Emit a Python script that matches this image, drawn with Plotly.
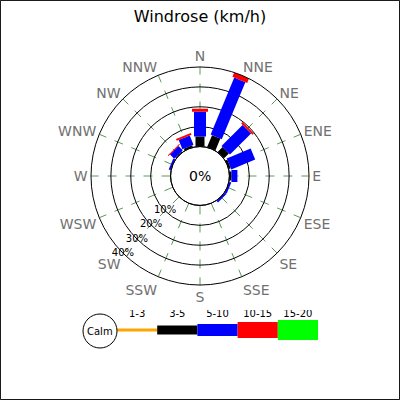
import plotly.graph_objects as go

# direções e faixas de velocidade
directions = ["N", "NNE", "NE", "ENE", "E", "ESE", "SE", "SSE",
              "S", "SSW", "SW", "WSW", "W", "WNW", "NW", "NNW"]
bands = ["1-3", "3-5", "5-10", "10-15", "15-20"]
band_colors = ["#FFA500", "#000000", "#0000FF", "#FF0000", "#00FF00"]
band_widths = [3, 9, 12, 16, 20]

# percentual por direção (uma lista por faixa)
pct_1_3 = [0, 0, 0, 0, 0, 0, 0, 0, 0, 0, 0, 0, 0, 0, 0, 0]
pct_3_5 = [5, 6.5, 3.5, 1, 1, 0, 0, 0, 0, 0, 0, 0, 0, 0, 0.5, 1]
pct_5_10 = [12.5, 31, 15, 13, 3, 1, 1, 0, 0, 0, 0, 0, 0, 1, 3, 5]
pct_10_15 = [1.5, 2.5, 1, 0, 0, 0, 0, 0, 0, 0, 0, 0, 0, 0, 0.5, 1]
pct_15_20 = [0, 0, 0, 0, 0, 0, 0, 0, 0, 0, 0, 0, 0, 0, 0, 0]

ring_values = [10, 20, 30, 40]
ring_labels = ["10%", "20%", "30%", "40%"]

fig = go.Figure()

# segmentos empilhados de cada direção
series = [pct_1_3, pct_3_5, pct_5_10, pct_10_15, pct_15_20]
cum = [0.0] * len(directions)
for band, vals, color, w in zip(bands, series, band_colors, band_widths):
    r, theta = [], []
    for i, d in enumerate(directions):
        if vals[i] > 0:
            r += [cum[i], cum[i] + vals[i], None]
            theta += [d, d, None]
        cum[i] += vals[i]
    if r:
        fig.add_trace(go.Scatterpolar(
            r=r, theta=theta, mode="lines",
            line=dict(color=color, width=w),
            connectgaps=False, cliponaxis=False,
            showlegend=False, hoverinfo="skip"
        ))

# rótulos dos anéis
fig.add_trace(go.Scatterpolar(
    r=ring_values, theta=["SW"] * len(ring_values), mode="text",
    text=ring_labels, textfont=dict(size=10, color="black"),
    showlegend=False, hoverinfo="skip"
))

# legenda desenhada à parte
for i, (band, color, w) in enumerate(zip(bands, band_colors, band_widths)):
    fig.add_trace(go.Scatter(
        x=[i, i + 1], y=[0.5, 0.5], mode="lines",
        line=dict(color=color, width=w),
        xaxis="x", yaxis="y", showlegend=False, hoverinfo="skip"
    ))
fig.add_trace(go.Scatter(
    x=[i + 0.5 for i in range(len(bands))], y=[0.9] * len(bands),
    mode="text", text=bands, textfont=dict(size=10, color="black"),
    xaxis="x", yaxis="y", showlegend=False, hoverinfo="skip"
))

hole_r = 0.27 * 0.2725  # raio do furo em fração do papel

fig.update_layout(
    width=400, height=400,
    margin=dict(l=0, r=0, t=0, b=0),
    paper_bgcolor="white",
    font=dict(family="DejaVu Sans", color="black"),
    title=dict(text="Windrose (km/h)", x=0.5, xanchor="center",
               y=0.96, yanchor="middle", font=dict(size=16, color="black")),
    polar=dict(
        domain=dict(x=[0.2275, 0.7725], y=[0.2875, 0.8325]),
        hole=0.27,
        bgcolor="white",
        radialaxis=dict(range=[0, 40], tickvals=[10, 20, 30, 40],
                        showticklabels=False, ticks="", showline=False,
                        gridcolor="black", gridwidth=1),
        angularaxis=dict(categoryarray=directions, categoryorder="array",
                         direction="clockwise", rotation=90,
                         gridcolor="#5a9a5a", griddash="dash", gridwidth=1,
                         showline=True, linecolor="black", linewidth=1,
                         ticks="", tickfont=dict(size=14, color="#707070"))
    ),
    xaxis=dict(domain=[0.2925, 0.795], range=[0, 5], visible=False, fixedrange=True),
    yaxis=dict(domain=[0.125, 0.225], range=[0, 1], visible=False, fixedrange=True),
    plot_bgcolor="rgba(0,0,0,0)",
    shapes=[
        dict(type="rect", xref="paper", yref="paper", x0=0.001, y0=0.001,
             x1=0.999, y1=0.999, line=dict(color="black", width=1)),
        dict(type="circle", xref="paper", yref="paper", layer="above",
             x0=0.5 - hole_r, x1=0.5 + hole_r, y0=0.56 - hole_r, y1=0.56 + hole_r,
             line=dict(color="black", width=1)),
        dict(type="circle", xref="paper", yref="paper",
             x0=83 / 400, x1=117 / 400, y0=1 - 348 / 400, y1=1 - 314 / 400,
             line=dict(color="black", width=1)),
    ],
    annotations=[
        dict(text="0%", xref="paper", yref="paper", x=0.5, y=0.56,
             xanchor="center", yanchor="middle",
             showarrow=False, font=dict(size=14, color="black")),
        dict(text="Calm", xref="paper", yref="paper", x=100 / 400, y=1 - 331 / 400,
             xanchor="center", yanchor="middle",
             showarrow=False, font=dict(size=10, color="black")),
    ],
)

fig.write_html("out.html", config={"displayModeBar": False},
               post_script="document.body.style.margin='0';")
